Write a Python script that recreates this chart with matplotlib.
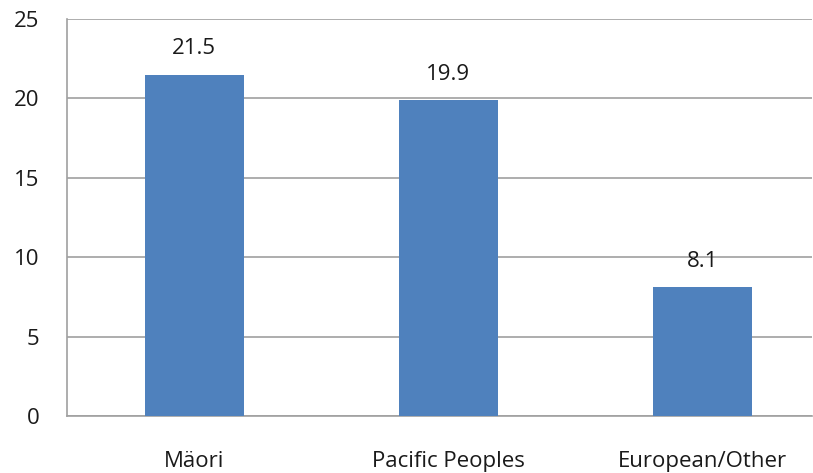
import matplotlib
matplotlib.use("Agg")
import matplotlib.pyplot as plt

categories = ["Mäori", "Pacific Peoples", "European/Other"]
values = [21.5, 19.9, 8.1]
yticks = [0, 5, 10, 15, 20, 25]

plt.rcParams['font.family'] = ['Open Sans', 'DejaVu Sans']

fig = plt.figure(figsize=(8.13, 4.73), dpi=100)
ax = fig.add_axes([67 / 813, 57 / 473, 745 / 813, 397 / 473])

x = list(range(len(categories)))
ax.bar(x, values, width=0.39, color='#4F81BD', zorder=3)
for xi, v in zip(x, values):
    ax.annotate(str(v), (xi, v), xytext=(0, 11), textcoords='offset points',
                ha='center', va='bottom', fontsize=16, color='#1a1a1a')

ax.set_xlim(-0.5, 2.43)
ax.set_ylim(0, 25)
ax.set_yticks(yticks)
ax.set_xticks(x)
ax.set_xticklabels(categories)
ax.yaxis.grid(True, color='#A0A0A0', linewidth=1.2, zorder=0)
ax.tick_params(axis='both', length=0, labelsize=16, colors='#1a1a1a')
ax.tick_params(axis='y', pad=20)
ax.tick_params(axis='x', pad=25)
for s in ['top', 'right']:
    ax.spines[s].set_visible(False)
for s in ['left', 'bottom']:
    ax.spines[s].set_color('#A0A0A0')
    ax.spines[s].set_linewidth(1.2)

fig.savefig('out.png', dpi=100)
